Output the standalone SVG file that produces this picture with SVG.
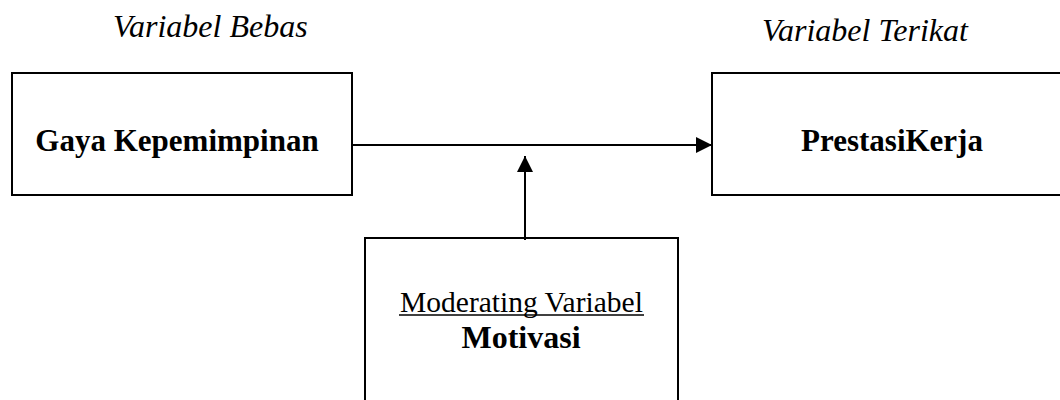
<svg xmlns="http://www.w3.org/2000/svg" width="1060" height="400" viewBox="0 0 1060 400">
<style>
.box{fill:#fff;stroke:#000;stroke-width:2}
.bold{font-family:"Liberation Serif","Times New Roman",serif;font-weight:bold;font-size:31px;fill:#000}
.ital{font-family:"Liberation Serif","Times New Roman",serif;font-style:italic;font-size:32px;fill:#000}
.reg{font-family:"Liberation Serif","Times New Roman",serif;font-size:29.5px;fill:#000}
.conn{stroke:#000;stroke-width:2;fill:none}
</style>
<defs>
<marker id="ah" markerWidth="16" markerHeight="16" refX="16" refY="8" orient="auto" markerUnits="userSpaceOnUse">
<path d="M0,0 L16,8 L0,16 Z" fill="#000"/>
</marker>
</defs>
<rect width="1060" height="400" fill="#fff"/>
<text class="ital" x="113" y="37">Variabel Bebas</text>
<text class="ital" x="762" y="41">Variabel Terikat</text>
<g id="gaya">
<rect class="box" x="12" y="73" width="340" height="122"/>
<text class="bold" x="177" y="151" text-anchor="middle">Gaya Kepemimpinan</text>
</g>
<g id="prestasi">
<rect class="box" x="712" y="73" width="360" height="122"/>
<text class="bold" x="892" y="151" text-anchor="middle">PrestasiKerja</text>
</g>
<g id="motivasi">
<rect class="box" x="365" y="238" width="313" height="180"/>
<text class="reg" x="521.5" y="312" text-anchor="middle">Moderating Variabel</text>
<line x1="399" y1="315" x2="644" y2="315" stroke="#000" stroke-width="1.5"/>
<text class="bold" x="521" y="348" text-anchor="middle" style="font-size:32px">Motivasi</text>
</g>
<g id="connectors">
<line class="conn" x1="352" y1="145" x2="712" y2="145" marker-end="url(#ah)"/>
<line class="conn" x1="525" y1="240" x2="525" y2="156" marker-end="url(#ah)"/>
</g>
</svg>
